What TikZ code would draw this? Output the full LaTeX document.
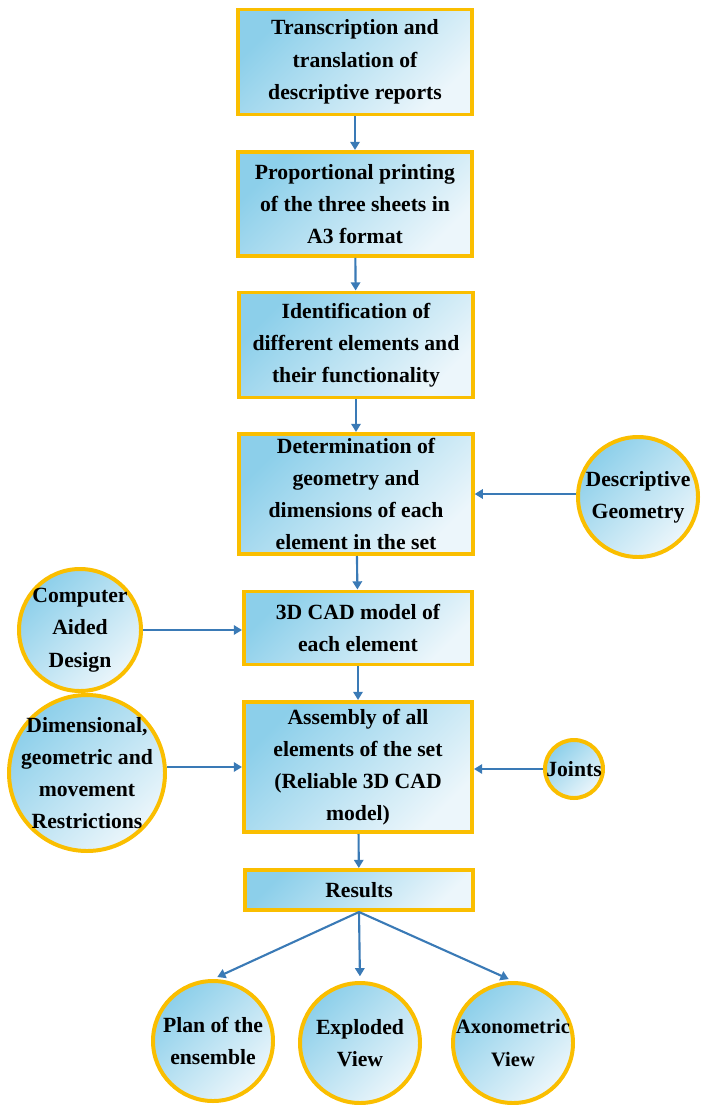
\documentclass[tikz,border=0pt]{standalone}
\usepackage{fontspec}
\setmainfont{Liberation Serif}
\usetikzlibrary{arrows.meta}

\definecolor{gold}{RGB}{250,190,0}
\definecolor{skyA}{RGB}{140,207,234}
\definecolor{skyB}{RGB}{236,246,251}
\definecolor{arrowblue}{RGB}{58,122,182}

\tikzset{
  stepbox/.style={draw=gold, line width=3.4pt, top color=skyA, bottom color=skyB, shading angle=45,
    align=center, inner sep=2pt, font=\bfseries\fontsize{18.5}{27.5}\selectfont},
  bubble/.style={circle, draw=gold, line width=3.4pt, top color=skyA, bottom color=skyB, shading angle=45,
    align=center, inner sep=-30pt, font=\bfseries\fontsize{18.5}{27.5}\selectfont},
  flow/.style={draw=arrowblue, line width=1.8pt, -{Triangle[width=8pt,length=7pt]}}
}

\begin{document}
\begin{tikzpicture}[x=0.03cm, y=-0.03cm]
    \useasboundingbox (0,0) rectangle (700,1105);

    \node[stepbox, minimum width=7cm, minimum height=3.15cm] (trans) at (355,62) {Transcription and\\translation of\\descriptive reports};
    \node[stepbox, minimum width=7cm, minimum height=3.12cm] (print) at (355,204) {Proportional printing\\of the three sheets in\\A3 format};
    \node[stepbox, minimum width=7cm, minimum height=3.15cm] (ident) at (356,345) {Identification of\\different elements and\\their functionality};
    \node[stepbox, minimum width=7cm, minimum height=3.6cm] (geom) at (356,494) {Determination of\\geometry and\\dimensions of each\\element in the set};
    \node[stepbox, minimum width=6.84cm, minimum height=2.19cm] (cad) at (358,628) {3D CAD model of\\each element};
    \node[stepbox, minimum width=6.84cm, minimum height=3.9cm] (assy) at (358,767) {Assembly of all\\elements of the set\\(Reliable 3D CAD\\model)};
    \node[stepbox, minimum width=6.84cm, minimum height=1.2cm] (res) at (359,890) {Results};

    \node[bubble, minimum size=3.6cm] (desc) at (638,497) {Descriptive\\Geometry};
    \node[bubble, minimum size=3.66cm] (comp) at (80,630) {Computer\\Aided\\Design};
    \node[bubble, minimum size=4.68cm] (restr) at (87,773) {Dimensional,\\geometric and\\movement\\Restrictions};
    \node[bubble, minimum size=1.74cm] (joints) at (574,769) {Joints};
    \node[bubble, minimum size=3.6cm] (plan) at (213,1041) {Plan of the\\ensemble};
    \node[bubble, minimum size=3.6cm] (expl) at (360,1043) {Exploded\\View};
    \node[bubble, minimum size=3.6cm, font=\bfseries\fontsize{17.5}{27.5}\selectfont] (axon) at (513,1043) {Axonometric\\View};

    \draw[flow] (trans) -- (print);
    \draw[flow] (print) -- (ident);
    \draw[flow] (ident) -- (geom);
    \draw[flow] (geom) -- (cad);
    \draw[flow] (cad) -- (assy);
    \draw[flow] (assy) -- (res);

    \draw[flow] (desc.west |- geom.east) -- (geom.east);
    \draw[flow] (comp.east) -- (comp.east -| cad.west);
    \draw[flow] (restr.east |- assy.west) -- (assy.west);
    \draw[flow] (joints.west) -- (joints.west -| assy.east);

    \draw[flow, shorten >=4pt] (res.south) -- (plan.north);
    \draw[flow, shorten >=4pt] (res.south) -- (expl.north);
    \draw[flow, shorten >=4pt] (res.south) -- (axon.north);
\end{tikzpicture}
\end{document}
